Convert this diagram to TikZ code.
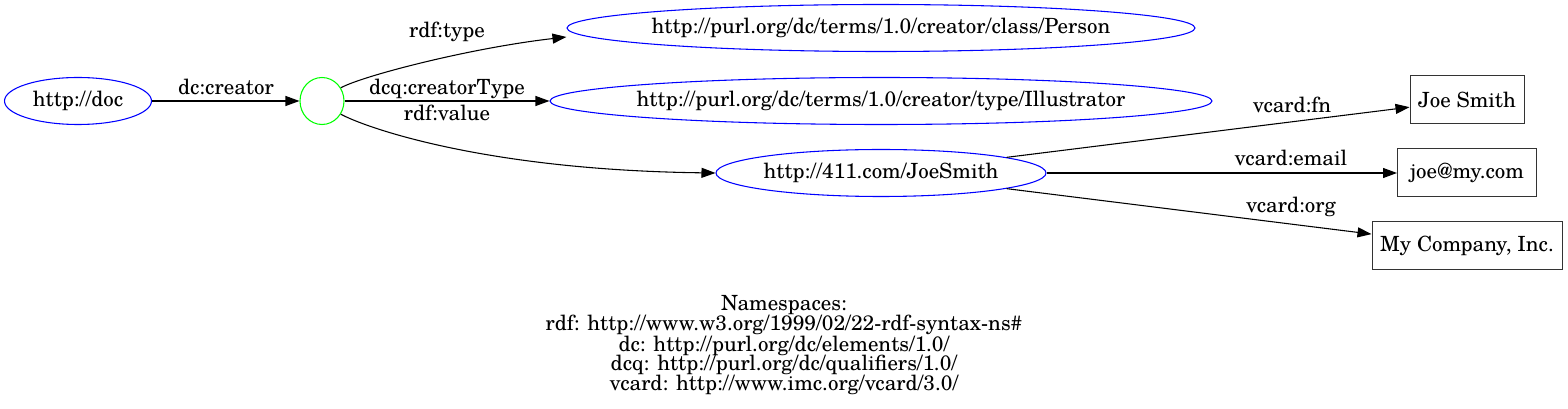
\documentclass[tikz,border=0pt]{standalone}
\usepackage{fontspec}
\setmainfont{texgyreschola}[Extension=.otf,UprightFont=*-regular,BoldFont=*-bold,ItalicFont=*-italic,BoldItalicFont=*-bolditalic]
\usetikzlibrary{shapes.geometric,arrows.meta}
\begin{document}
\begin{tikzpicture}[x=0.75pt,y=-0.75pt,
  every node/.style={font=\fontsize{15.7pt}{14.8pt}\selectfont},
  every label/.style={inner sep=0pt},
  res/.style={ellipse,draw=blue,line width=0.8pt,inner sep=0pt,minimum height=35.25pt},
  blank/.style={ellipse,draw=green,line width=0.8pt,inner sep=0pt},
  lit/.style={rectangle,draw=black!80,line width=0.75pt,inner sep=0pt,minimum height=36pt},
  conn/.style={draw=black,line width=0.8pt,-{Triangle[length=10.5pt,width=7.5pt]}},
  elabel/.style={inner sep=0pt,anchor=base}
]
\useasboundingbox (0,0) rectangle (1568,409);
\node[res,minimum width=110.25pt,label={center:http://doc}] (doc) at (78,101) {};
\node[blank,minimum width=33pt,minimum height=35.25pt] (b) at (322,101) {};
\node[res,minimum width=471pt,label={center:http://purl.org/dc/terms/1.0/creator/class/Person}] (person) at (881,28) {};
\node[res,minimum width=496.5pt,label={center:http://purl.org/dc/terms/1.0/creator/type/Illustrator}] (illus) at (881,101) {};
\node[res,minimum width=247.5pt,label={center:http://411.com/JoeSmith}] (js) at (881,173) {};
\node[lit,minimum width=85.5pt] (fn) at (1467,100) {Joe Smith};
\node[lit,minimum width=104.25pt] (email) at (1467,173) {joe@my.com};
\node[lit,minimum width=142.5pt] (org) at (1467,246) {My Company, Inc.};

\draw[conn] (doc) -- (b);
\draw[conn] (b.35) .. controls (362,76) and (470,48) .. (person.west |- 0,37) ;
\draw[conn] (b) -- (illus);
\draw[conn] (b.-35) .. controls (362,126) and (480,170) .. (js.west);
\draw[conn] (js) -- (fn);
\draw[conn] (js) -- (email);
\draw[conn] (js) -- (org);

\node[elabel] (l1) at (226,95) {dc:creator};
\node[elabel] (l2) at (447,38) {rdf:type};
\node[elabel] (l3) at (447,95) {dcq:creatorType};
\node[elabel] (l4) at (447,121) {rdf:value};
\node[elabel] (l5) at (1292,113) {vcard:fn};
\node[elabel] (l6) at (1291,166) {vcard:email};
\node[elabel] (l7) at (1291,213) {vcard:org};

\node[align=center,inner sep=0pt] (ns) at (784,345) {Namespaces:\\rdf: http://www.w3.org/1999/02/22-rdf-syntax-ns\#\\dc: http://purl.org/dc/elements/1.0/\\dcq: http://purl.org/dc/qualifiers/1.0/\\vcard: http://www.imc.org/vcard/3.0/};
\end{tikzpicture}
\end{document}
